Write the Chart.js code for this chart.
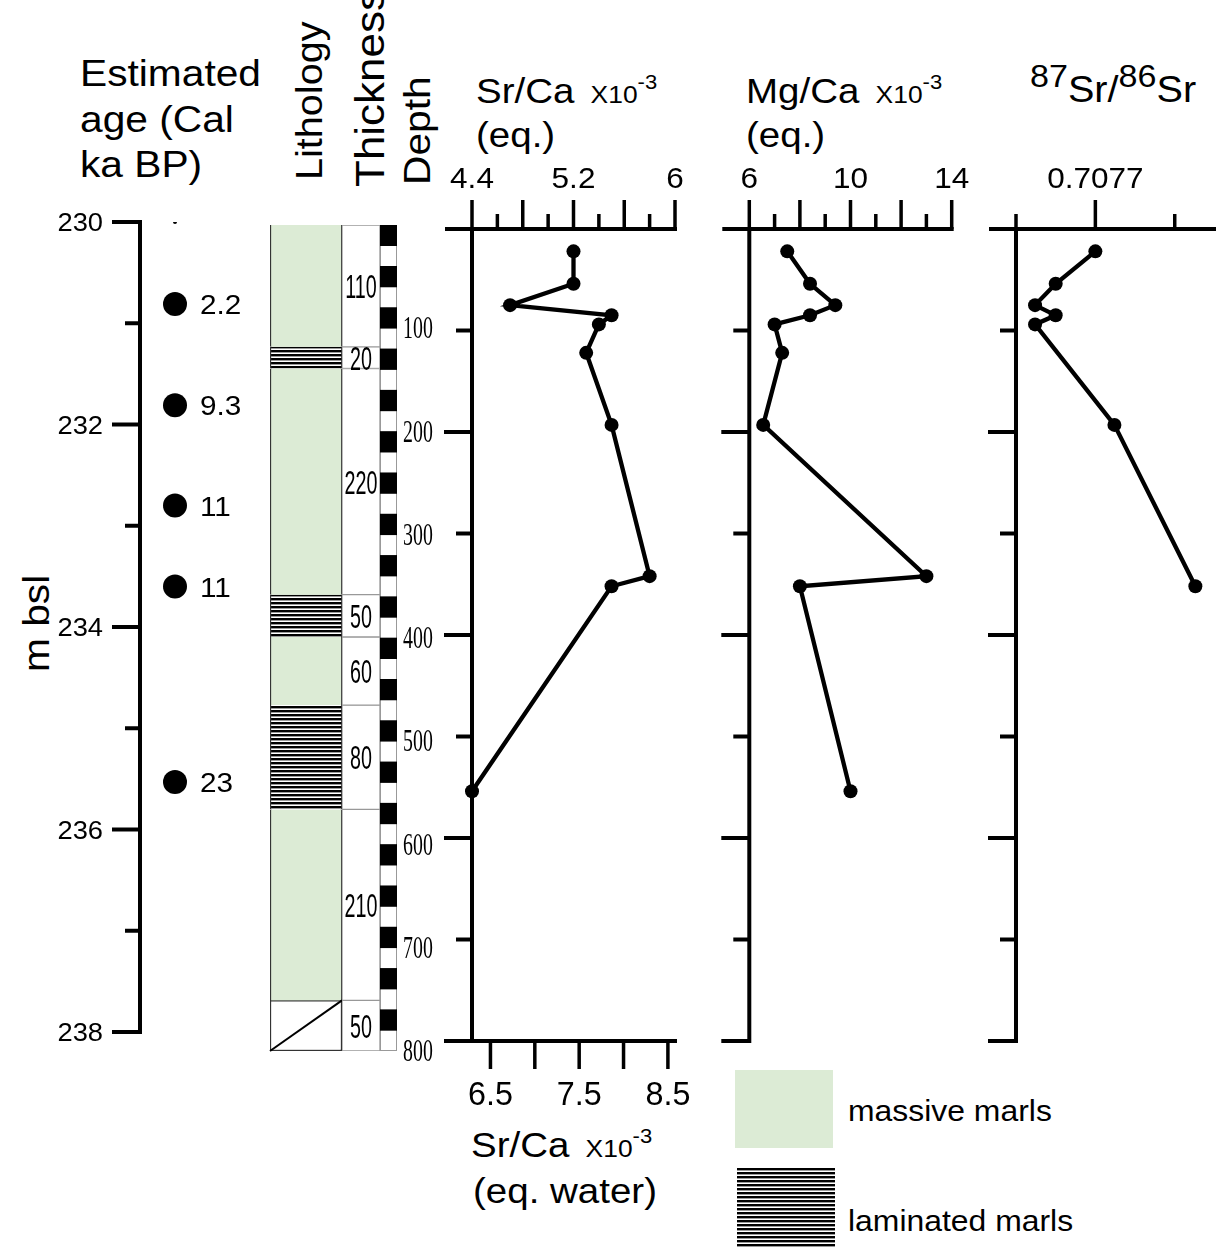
<!DOCTYPE html>
<html>
<head>
<meta charset="utf-8">
<script src="https://cdn.jsdelivr.net/npm/chart.js@4.4.1/dist/chart.umd.min.js"></script>
<style>
body{margin:0;background:#fff;width:1223px;height:1250px;overflow:hidden;position:relative;font-family:"Liberation Sans",Arial,sans-serif;color:#000}
canvas{position:absolute}
.t{position:absolute;white-space:nowrap;transform-origin:0 0;transform:scaleX(1.1);line-height:1}
.r{transform:rotate(-90deg) scaleX(1.1)}
.sm{font-size:24px;margin-left:5px}
.sup{font-size:20px;position:relative;top:-14px}
</style>
</head>
<body>

<div class="t" style="left:80px;top:51px;font-size:37px;line-height:45.5px">Estimated<br>age (Cal<br>ka BP)</div>
<div class="t r" style="left:18px;top:672px;font-size:37px">m bsl</div>
<div class="t r" style="left:292px;top:180px;font-size:36px">Lithology</div>
<div class="t r" style="left:350px;top:187px;font-size:40px">Thickness</div>
<div class="t r" style="left:399px;top:185px;font-size:37px">Depth</div>

<div class="t" style="left:476px;top:73px;font-size:35px">Sr/Ca <span class="sm">X10</span><span class="sup">-3</span></div>
<div class="t" style="left:476px;top:117px;font-size:35px">(eq.)</div>
<div class="t" style="left:746px;top:73px;font-size:35px">Mg/Ca <span class="sm">X10</span><span class="sup">-3</span></div>
<div class="t" style="left:746px;top:117px;font-size:35px">(eq.)</div>
<div class="t" style="left:1030px;top:72px;font-size:36px"><span style="font-size:31px;position:relative;top:-15px">87</span>Sr/<span style="font-size:31px;position:relative;top:-15px">86</span>Sr</div>

<div class="t" style="left:471px;top:1127px;font-size:35px">Sr/Ca <span class="sm">X10</span><span class="sup">-3</span></div>
<div class="t" style="left:473px;top:1173px;font-size:35px">(eq. water)</div>

<div style="position:absolute;left:735px;top:1070px;width:98px;height:78px;background:#dcebd5"></div>
<div style="position:absolute;left:737px;top:1168px;width:98px;height:80px;background:repeating-linear-gradient(to bottom,#000 0 2px,#999 2px 3px,#fff 3px 4px)"></div>
<div class="t" style="left:848px;top:1097px;font-size:29px">massive marls</div>
<div class="t" style="left:848px;top:1207px;font-size:29px">laminated marls</div>

<canvas id="age" width="260" height="970" style="left:0;top:150px"></canvas>
<canvas id="lith" width="80" height="970" style="left:266px;top:150px"></canvas>
<canvas id="thick" width="38" height="970" style="left:342px;top:150px"></canvas>
<canvas id="ruler" width="60" height="970" style="left:380px;top:150px"></canvas>
<canvas id="srca" width="280" height="970" style="left:420px;top:150px"></canvas>
<canvas id="mgca" width="270" height="970" style="left:700px;top:150px"></canvas>
<canvas id="iso" width="253" height="970" style="left:970px;top:150px"></canvas>

<script>
// ages (Cal ka BP) against depth (m bsl)
const ageDepthM = [230.0, 230.81, 231.81, 232.80, 233.60, 235.53];
const ageKa = [null, 2.2, 9.3, 11, 11, 23];
const ageAxisMajor = [230, 232, 234, 236, 238];
const ageAxisMinor = [231, 233, 235, 237];

// lithology log (cm below top of section)
const layerTopCm  = [0, 118, 139, 358, 399, 465, 566, 751];
const layerBaseCm = [118, 139, 358, 399, 465, 566, 751, 800];
const layerType = ['massive', 'laminated', 'massive', 'laminated', 'massive', 'laminated', 'massive', 'none'];
const layerThicknessCm = [110, 20, 220, 50, 60, 80, 210, 50];
const rulerBlackTopCm = [0, 40, 80, 120, 160, 200, 240, 280, 320, 360, 400, 440, 480, 520, 560, 600, 640, 680, 720, 760];
const rulerSegmentCm = 20;
const depthLabelsCm = [100, 200, 300, 400, 500, 600, 700, 800];
const depthTicksLong = [200, 400, 600, 800];
const depthTicksShort = [100, 300, 500, 700];

// geochemistry
const sampleDepthCm = [22, 54, 75, 85, 94, 122, 193, 342, 352, 554];
const srCaEq = [5.20, 5.20, 4.70, 5.50, 5.40, 5.30, 5.50, 5.80, 5.50, 4.40];
const mgCaEq = [7.5, 8.4, 9.4, 8.4, 7.0, 7.3, 6.55, 13.0, 8.0, 10.0];
const isoDepthCm = [22, 54, 75, 85, 94, 193, 352];
const sr87Sr86 = [0.70770, 0.707675, 0.707662, 0.707675, 0.707662, 0.707712, 0.707763];

const srTopMajor = [4.4, 4.8, 5.2, 5.6, 6.0];
const srTopMinor = [4.6, 5.0, 5.4, 5.8];
const srTopLabels = [4.4, 5.2, 6];
const srWaterTicks = [6.5, 7, 7.5, 8, 8.5];
const srWaterLabels = [6.5, 7.5, 8.5];
const eqWaterFactor = 1.43;
const mgTopMajor = [6, 8, 10, 12, 14];
const mgTopMinor = [7, 9, 11, 13];
const mgTopLabels = [6, 10, 14];
const isoTopMajor = [0.7077];
const isoTopMinor = [0.70765, 0.70775];
const isoTopLabels = [0.7077];

const green = '#dcebd5';
const SANS = '"Liberation Sans", Arial, sans-serif';
const SERIF = '"Liberation Serif", "Times New Roman", serif';

function drawLine(ctx, x1, y1, x2, y2) {
    ctx.beginPath();
    ctx.moveTo(x1, y1);
    ctx.lineTo(x2, y2);
    ctx.stroke();
}

function drawText(ctx, s, x, y, size, family, align, sx) {
    ctx.save();
    ctx.font = size + 'px ' + family;
    ctx.fillStyle = '#000';
    ctx.textAlign = align;
    ctx.textBaseline = 'alphabetic';
    ctx.translate(x, y);
    ctx.scale(sx, 1);
    ctx.fillText(s, 0, 0);
    ctx.restore();
}

function baseOptions(pad) {
    return {
        responsive: false,
        animation: false,
        events: [],
        layout: {padding: pad},
        plugins: {legend: {display: false}, tooltip: {enabled: false}, title: {display: false}}
    };
}

// laminated marls fill
var pc = document.createElement('canvas');
pc.width = 8; pc.height = 4;
var pctx = pc.getContext('2d');
pctx.fillStyle = '#fff'; pctx.fillRect(0, 0, 8, 4);
pctx.fillStyle = '#000'; pctx.fillRect(0, 0, 8, 2);
pctx.fillStyle = '#999'; pctx.fillRect(0, 2, 8, 1);
var lamPattern = pctx.createPattern(pc, 'repeat');

// ---------- age column ----------
const ageAxis = {
    id: 'ageAxis',
    beforeDatasetsDraw(chart) {
        const {ctx, chartArea: a, scales: {x, y}} = chart;
        ctx.save();
        ctx.strokeStyle = '#000';
        ctx.lineWidth = 4;
        drawLine(ctx, a.left, y.getPixelForValue(230) - 2, a.left, y.getPixelForValue(238) + 2);
        ageAxisMajor.forEach(v => {
            var py = y.getPixelForValue(v);
            drawLine(ctx, a.left - 28, py, a.left, py);
            drawText(ctx, String(v), a.left - 37, py + 9, 26, SANS, 'right', 1.05);
        });
        ageAxisMinor.forEach(v => {
            var py = y.getPixelForValue(v);
            drawLine(ctx, a.left - 15, py, a.left, py);
        });
        ctx.restore();
    },
    afterDatasetsDraw(chart) {
        const {ctx, scales: {x, y}} = chart;
        ageKa.forEach((v, i) => {
            if (v == null) return;
            drawText(ctx, String(v), x.getPixelForValue(0) + 25, y.getPixelForValue(ageDepthM[i]) + 10, 27, SANS, 'left', 1.1);
        });
    }
};

new Chart(document.getElementById('age'), {
    type: 'scatter',
    data: {
        datasets: [{
            data: ageDepthM.map(d => ({x: 0, y: d})),
            pointRadius: ctx => ageKa[ctx.dataIndex] == null ? 2 : 12,
            pointBackgroundColor: '#000',
            pointBorderWidth: 0,
            showLine: false
        }]
    },
    options: Object.assign(baseOptions({left: 140, right: 50, top: 72, bottom: 88}), {
        scales: {
            x: {display: false, min: -1, max: 1},
            y: {display: false, min: 230, max: 238, reverse: true}
        }
    }),
    plugins: [ageAxis]
});

// ---------- lithology ----------
const lithDeco = {
    id: 'lithDeco',
    afterDatasetsDraw(chart) {
        const {ctx} = chart;
        const last = layerType.indexOf('none');
        const el = chart.getDatasetMeta(last).data[0];
        const p = el.getProps(['x', 'y', 'base', 'width'], true);
        ctx.save();
        ctx.strokeStyle = '#000';
        ctx.lineWidth = 2;
        drawLine(ctx, p.x - p.width / 2, Math.max(p.y, p.base), p.x + p.width / 2, Math.min(p.y, p.base));
        ctx.restore();
    }
};

const lithPad = {left: 4, right: 4, top: 75, bottom: 69};
new Chart(document.getElementById('lith'), {
    type: 'bar',
    data: {
        labels: ['Lithology'],
        datasets: layerTopCm.map((t, i) => ({
            data: [[t, layerBaseCm[i]]],
            backgroundColor: layerType[i] == 'massive' ? green : (layerType[i] == 'laminated' ? lamPattern : '#fff'),
            borderColor: '#333',
            borderWidth: layerType[i] == 'none' ? 1.5 : {left: 1.5, right: 1.2, top: 0, bottom: 0},
            borderSkipped: false
        }))
    },
    options: Object.assign(baseOptions(lithPad), {
        datasets: {bar: {grouped: false, categoryPercentage: 1, barPercentage: 1}},
        scales: {
            x: {display: false},
            y: {display: false, min: 0, max: 800, reverse: true}
        }
    }),
    plugins: [lithDeco]
});

const thickLabels = {
    id: 'thickLabels',
    afterDatasetsDraw(chart) {
        const {ctx} = chart;
        layerThicknessCm.forEach((v, i) => {
            const p = chart.getDatasetMeta(i).data[0].getProps(['x', 'y', 'base'], true);
            drawText(ctx, String(v), p.x, (p.y + p.base) / 2 + 12, 34, SANS, 'center', 0.58);
        });
    }
};

new Chart(document.getElementById('thick'), {
    type: 'bar',
    data: {
        labels: ['Thickness'],
        datasets: layerTopCm.map((t, i) => ({
            data: [[t, layerBaseCm[i]]],
            backgroundColor: '#fff',
            borderColor: '#999',
            borderWidth: 1,
            borderSkipped: false
        }))
    },
    options: Object.assign(baseOptions({left: 0, right: 0, top: 75, bottom: 69}), {
        datasets: {bar: {grouped: false, categoryPercentage: 1, barPercentage: 1}},
        scales: {
            x: {display: false},
            y: {display: false, min: 0, max: 800, reverse: true}
        }
    }),
    plugins: [thickLabels]
});

const rulerDeco = {
    id: 'rulerDeco',
    beforeDatasetsDraw(chart) {
        const {ctx, chartArea: a} = chart;
        ctx.save();
        ctx.strokeStyle = '#999';
        ctx.lineWidth = 1;
        ctx.strokeRect(a.left + 0.5, a.top + 0.5, a.width - 1, a.height - 1);
        ctx.restore();
    },
    afterDatasetsDraw(chart) {
        const {ctx, chartArea: a, scales: {y}} = chart;
        depthLabelsCm.forEach(v => {
            drawText(ctx, String(v), a.right + 21, y.getPixelForValue(v) + 10, 31, SERIF, 'center', 0.64);
        });
    }
};

new Chart(document.getElementById('ruler'), {
    type: 'bar',
    data: {
        labels: ['Depth'],
        datasets: rulerBlackTopCm.map(t => ({
            data: [[t, t + rulerSegmentCm]],
            backgroundColor: '#000',
            borderWidth: 0
        }))
    },
    options: Object.assign(baseOptions({left: 0, right: 43, top: 75, bottom: 69}), {
        datasets: {bar: {grouped: false, categoryPercentage: 1, barPercentage: 1}},
        scales: {
            x: {display: false},
            y: {display: false, min: 0, max: 800, reverse: true}
        }
    }),
    plugins: [rulerDeco]
});

// ---------- profile panels ----------
function panelAxes(o) {
    return {
        id: 'panelAxes',
        beforeDatasetsDraw(chart) {
            const {ctx, chartArea: a, scales} = chart;
            const x = scales.x, y = scales.y;
            ctx.save();
            ctx.strokeStyle = '#000';
            ctx.lineWidth = 4;
            drawLine(ctx, a.left, a.top - 2, a.left, a.bottom + 2);
            drawLine(ctx, a.left - 27, a.top, a.right + o.ext, a.top);
            depthTicksLong.forEach(v => {
                var py = y.getPixelForValue(v);
                drawLine(ctx, a.left - 28, py, a.left, py);
            });
            depthTicksShort.forEach(v => {
                var py = y.getPixelForValue(v);
                drawLine(ctx, a.left - 16, py, a.left, py);
            });
            ctx.lineWidth = 3.5;
            o.major.forEach(v => {
                var px = x.getPixelForValue(v);
                drawLine(ctx, px, a.top, px, a.top - 29);
            });
            o.minor.forEach(v => {
                var px = x.getPixelForValue(v);
                drawLine(ctx, px, a.top, px, a.top - 15);
            });
            o.labels.forEach(v => {
                drawText(ctx, String(v), x.getPixelForValue(v), a.top - 41, 30, SANS, 'center', 1.05);
            });
            if (o.bottom) {
                const x2 = scales.x2;
                ctx.lineWidth = 4;
                drawLine(ctx, a.left - 27, a.bottom, a.right + 2, a.bottom);
                ctx.lineWidth = 3.5;
                srWaterTicks.forEach(v => {
                    var px = x2.getPixelForValue(v);
                    drawLine(ctx, px, a.bottom, px, a.bottom + 28);
                });
                srWaterLabels.forEach(v => {
                    drawText(ctx, String(v), x2.getPixelForValue(v), a.bottom + 64, 34, SANS, 'center', 0.95);
                });
            }
            ctx.restore();
        }
    };
}

function profileDataset(values, depths) {
    return {
        data: values.map((v, i) => ({x: v, y: depths[i]})),
        showLine: true,
        borderColor: '#000',
        borderWidth: 4.3,
        tension: 0,
        pointRadius: 7,
        pointBackgroundColor: '#000',
        pointBorderWidth: 0,
        clip: false
    };
}

const panelPadY = {top: 79, bottom: 79};

new Chart(document.getElementById('srca'), {
    type: 'scatter',
    data: {datasets: [profileDataset(srCaEq, sampleDepthCm)]},
    options: Object.assign(baseOptions({left: 52, right: 25, top: panelPadY.top, bottom: panelPadY.bottom}), {
        scales: {
            x: {display: false, min: 4.4, max: 6.0},
            x2: {display: false, type: 'linear', axis: 'x', min: 4.4 * eqWaterFactor, max: 6.0 * eqWaterFactor},
            y: {display: false, min: 0, max: 800, reverse: true}
        }
    }),
    plugins: [panelAxes({major: srTopMajor, minor: srTopMinor, labels: srTopLabels, ext: 2, bottom: true})]
});

new Chart(document.getElementById('mgca'), {
    type: 'scatter',
    data: {datasets: [profileDataset(mgCaEq, sampleDepthCm)]},
    options: Object.assign(baseOptions({left: 49.3, right: 18.3, top: panelPadY.top, bottom: panelPadY.bottom}), {
        scales: {
            x: {display: false, min: 6, max: 14},
            y: {display: false, min: 0, max: 800, reverse: true}
        }
    }),
    plugins: [panelAxes({major: mgTopMajor, minor: mgTopMinor, labels: mgTopLabels, ext: 2, bottom: false})]
});

// axis runs on past the last minor tick, so the scale ends at the line's end
new Chart(document.getElementById('iso'), {
    type: 'scatter',
    data: {datasets: [profileDataset(sr87Sr86, isoDepthCm)]},
    options: Object.assign(baseOptions({left: 46, right: 4, top: panelPadY.top, bottom: panelPadY.bottom}), {
        scales: {
            x: {display: false, min: 0.70765, max: 0.707776},
            y: {display: false, min: 0, max: 800, reverse: true}
        }
    }),
    plugins: [panelAxes({major: isoTopMajor, minor: isoTopMinor, labels: isoTopLabels, ext: 0, bottom: false})]
});
</script>
</body>
</html>
